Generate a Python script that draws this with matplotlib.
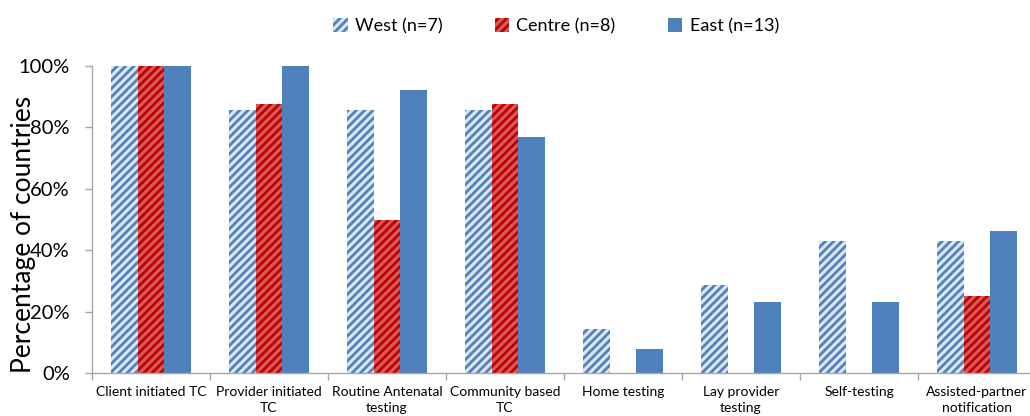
import matplotlib
matplotlib.use("Agg")
import matplotlib.pyplot as plt
import numpy as np

categories = ["Client initiated TC", "Provider initiated\nTC", "Routine Antenatal\ntesting",
              "Community based\nTC", "Home testing", "Lay provider\ntesting",
              "Self-testing", "Assisted-partner\nnotification"]
west = [100, 85.7, 85.7, 85.7, 14.3, 28.6, 42.9, 42.9]
centre = [100, 87.5, 50.0, 87.5, 0, 0, 0, 25.0]
east = [100, 100, 92.3, 76.9, 7.7, 23.1, 23.1, 46.2]
series_names = ["West (n=7)", "Centre (n=8)", "East (n=13)"]
yticks = [0, 20, 40, 60, 80, 100]

plt.rcParams['font.family'] = ['Lato', 'DejaVu Sans']
plt.rcParams['hatch.linewidth'] = 2.0

fig = plt.figure(figsize=(10.30, 4.16), dpi=100)
W, H = 1030, 416
ax = fig.add_axes([92 / W, (H - 373) / H, (1036 - 92) / W, (373 - 66) / H])

x = np.arange(len(categories))
bw = 0.225
ax.bar(x - bw, west, bw, facecolor='#dce6f2', edgecolor='#4f81bd', hatch='////', linewidth=0,
       label=series_names[0])
ax.bar(x, centre, bw, facecolor='#d65a5a', edgecolor='#c00000', hatch='////', linewidth=0,
       label=series_names[1])
ax.bar(x + bw, east, bw, facecolor='#4f81bd', edgecolor='#4f81bd', linewidth=0,
       label=series_names[2])

ax.set_xlim(-0.5, len(categories) - 0.5)
ax.set_ylim(0, 100)
ax.set_yticks(yticks)
ax.set_yticklabels([f"{v}%" for v in yticks], fontsize=14.5)
ax.set_xticks(x)
ax.set_xticklabels(categories, fontsize=10, linespacing=1.5)
ax.tick_params(axis='x', length=0, pad=9)
ax.set_xticks(np.arange(len(categories) + 1) - 0.5, minor=True)
ax.tick_params(axis='x', which='minor', length=5, color='#a6a6a6', width=1)
ax.tick_params(axis='y', length=5, color='#a6a6a6', width=1, pad=11)

for s in ['top', 'right']:
    ax.spines[s].set_visible(False)
for s in ['left', 'bottom']:
    ax.spines[s].set_color('#a6a6a6')
    ax.spines[s].set_linewidth(1)

ax.set_ylabel("Percentage of countries", fontsize=19)
ax.yaxis.set_label_coords(-(92 - 36) / 944, 0.45)

leg = fig.legend(loc='center', bbox_to_anchor=(556 / W, 1 - 26 / H), ncol=3, frameon=False,
                 fontsize=13, handlelength=0.8, handleheight=0.8, handletextpad=0.4,
                 columnspacing=2.9)

fig.savefig("out.png", dpi=100)
